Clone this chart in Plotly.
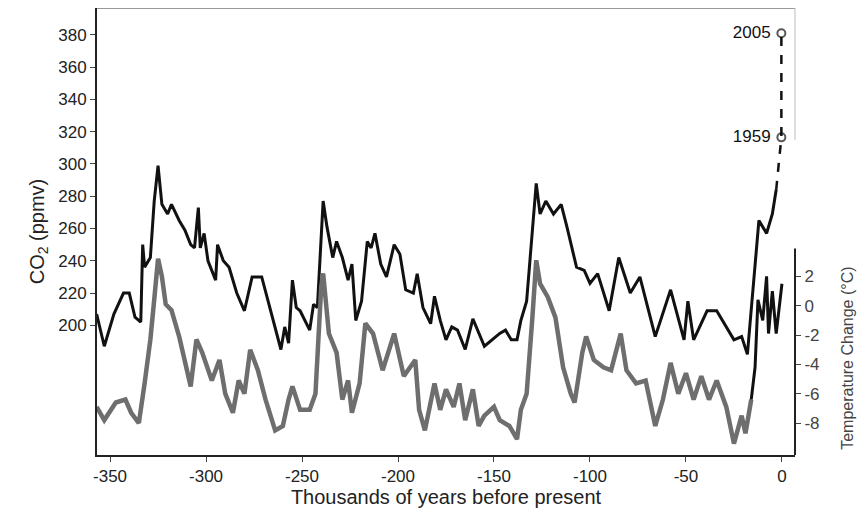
import plotly.graph_objects as go

# CO2 ice-core record (thousands of years before present, ppmv)
co2_years = [-357, -353, -348, -343, -340, -337, -334, -333, -332, -329, -327, -325, -323, -320, -318,
             -314, -311, -308, -306, -304, -303, -301, -299, -295, -294, -291, -288, -284, -280, -276,
             -271, -265, -261, -259, -257, -255, -253, -251, -246, -244, -242, -239, -237, -234, -232,
             -229, -226, -224, -222, -219, -216, -214, -212, -209, -206, -202, -199, -196, -192, -190,
             -187, -183, -181, -178, -175, -172, -169, -165, -161, -155, -147, -144, -141, -138, -136,
             -133, -129, -128, -126, -123, -119, -115, -112, -107, -103, -100, -96, -90, -85, -79,
             -74, -66, -58, -51, -49, -46, -39, -34, -25, -21, -18, -14, -12, -8, -5, -3]
co2_values = [207, 187, 207, 220, 220, 205, 202, 250, 236, 242, 277, 299, 275, 269, 275,
              265, 259, 250, 248, 273, 248, 257, 240, 228, 250, 240, 236, 220, 209, 230,
              230, 203, 185, 199, 189, 228, 211, 209, 197, 213, 211, 277, 261, 242, 252,
              242, 228, 238, 203, 215, 252, 248, 257, 238, 230, 250, 244, 222, 220, 232,
              211, 201, 218, 203, 191, 199, 197, 185, 204, 187, 195, 197, 191, 191, 203,
              215, 273, 288, 269, 277, 269, 275, 261, 236, 234, 226, 232, 209, 242, 220,
              230, 193, 222, 191, 215, 191, 209, 209, 191, 193, 182, 238, 265, 257, 269, 284]

# Instrumental CO2 (dashed segment)
recent_years = [-3, -0.3, -0.3]
recent_co2 = [284, 316.5, 381]
recent_labels = ["", "1959 ", "2005 "]

# Temperature change (deg C)
temp_years = [-357, -353, -347, -342, -339, -335, -332, -329, -327, -325, -323, -321, -318, -314, -308,
              -305, -302, -297, -293, -290, -286, -283, -280, -277, -273, -269, -264, -260, -257, -255,
              -251, -246, -243, -240, -239, -236, -232, -229, -226, -224, -220, -217, -213, -208, -202,
              -197, -191, -189, -186, -181, -178, -175, -171, -168, -165, -161, -158, -155, -150, -147,
              -142, -138, -136, -133, -130, -128, -126, -122, -118, -114, -110, -108, -104, -102, -98,
              -93, -89, -84, -81, -76, -71, -66, -62, -58, -54, -50, -46, -42, -38, -34,
              -29, -25, -21, -19, -16]
temp_values = [-6.9, -7.8, -6.6, -6.4, -7.3, -8.0, -5.3, -2.3, 0.4, 3.2, 2.0, 0.1, -0.3, -2.1, -5.5,
               -2.3, -3.2, -5.1, -3.7, -6.0, -7.3, -5.1, -6.0, -3.0, -4.4, -6.4, -8.5, -8.2, -6.4, -5.5,
               -7.1, -7.1, -6.0, 1.3, 2.2, -1.9, -3.2, -6.4, -5.1, -7.3, -5.3, -1.2, -1.9, -4.4, -1.9,
               -4.8, -3.7, -7.1, -8.5, -5.3, -7.1, -5.7, -6.9, -5.3, -7.8, -5.7, -8.2, -7.5, -6.9, -7.8,
               -8.2, -9.1, -7.1, -6.0, -0.8, 3.1, 1.5, 0.6, -0.8, -4.2, -6.0, -6.6, -3.2, -2.1, -3.7,
               -4.2, -4.4, -1.9, -4.4, -5.3, -5.1, -8.2, -6.4, -3.9, -6.0, -4.6, -6.4, -4.8, -6.4, -5.1,
               -6.9, -9.4, -7.5, -8.7, -6.4]

# Most recent temperature segment drawn in black
temp_recent_years = [-16, -14, -12.5, -10, -8, -7, -5, -3, 0]
temp_recent_values = [-6.4, -4.2, 0.4, -1.0, 2.0, -1.9, 1.0, -1.9, 1.5]

x_ticks = [-350, -300, -250, -200, -150, -100, -50, 0]
x_labels = ["-350", "-300", "-250", "-200", "-150", "-100", "-50", "0"]
co2_ticks = list(range(200, 381, 20))
temp_ticks = [2, 0, -2, -4, -6, -8]
temp_labels = ["2", "0", "-2", "-4", "-6", "-8"]

FONT = "Liberation Sans, Arial, sans-serif"
GRAY = "#6e6e6e"

fig = go.Figure()
fig.add_trace(go.Scatter(x=temp_years, y=temp_values, yaxis="y2", mode="lines",
                         line=dict(color=GRAY, width=4.5), showlegend=False))
fig.add_trace(go.Scatter(x=temp_recent_years, y=temp_recent_values, yaxis="y2", mode="lines",
                         line=dict(color="#111", width=3), showlegend=False))
fig.add_trace(go.Scatter(x=co2_years, y=co2_values, mode="lines",
                         line=dict(color="#111", width=3), showlegend=False))
fig.add_trace(go.Scatter(x=recent_years, y=recent_co2, mode="lines+markers+text",
                         line=dict(color="#111", width=2.5, dash="dash"),
                         marker=dict(size=[0, 8, 8], symbol="circle-open", color="#111",
                                     line=dict(width=2)),
                         text=recent_labels, textposition="middle left",
                         textfont=dict(size=17, color="#111"), showlegend=False))

# page has an 8px body margin, so the figure is sized to fit inside the window
fig.update_layout(
    width=858, height=501,
    margin=dict(l=89, r=71, t=0, b=54),
    paper_bgcolor="white", plot_bgcolor="white",
    font=dict(family=FONT, size=17, color="#222"),
    xaxis=dict(range=[-356.8, 6.8], tickvals=x_ticks, ticktext=x_labels, showgrid=False,
               zeroline=False, automargin=False,
               showline=True, linecolor="#222", linewidth=2, ticks="outside", ticklen=5,
               title=dict(text="Thousands of years before present", standoff=2)),
    yaxis=dict(range=[119.6, 396.7], tickvals=co2_ticks, showgrid=False, zeroline=False,
               automargin=False,
               showline=True, linecolor="#222", linewidth=2, ticks="outside", ticklen=5,
               title=dict(text="CO<sub>2</sub> (ppmv)", standoff=8)),
    yaxis2=dict(range=[-10.18, 20.3], overlaying="y", side="right", tickvals=temp_ticks,
                ticktext=temp_labels, automargin=False,
                showgrid=False, zeroline=False, showline=False, ticks="outside", ticklen=5,
                tickfont=dict(color="#444")),
    shapes=[
        dict(type="line", xref="paper", yref="paper", x0=0, x1=1, y0=1, y1=1,
             line=dict(color="#999", width=2)),
        dict(type="line", xref="paper", yref="y2", x0=1, x1=1, y0=-10.18, y1=3.9,
             line=dict(color="#222", width=2)),
        dict(type="line", xref="paper", yref="y", x0=1, x1=1, y0=315, y1=396.7,
             line=dict(color="#bbb", width=1)),
    ],
    annotations=[
        dict(text="Temperature Change (°C)", xref="paper", yref="y2", x=1.09, y=-3.6,
             textangle=-90, showarrow=False, font=dict(size=16, color="#444")),
    ],
)

fig.write_html("out.html")
